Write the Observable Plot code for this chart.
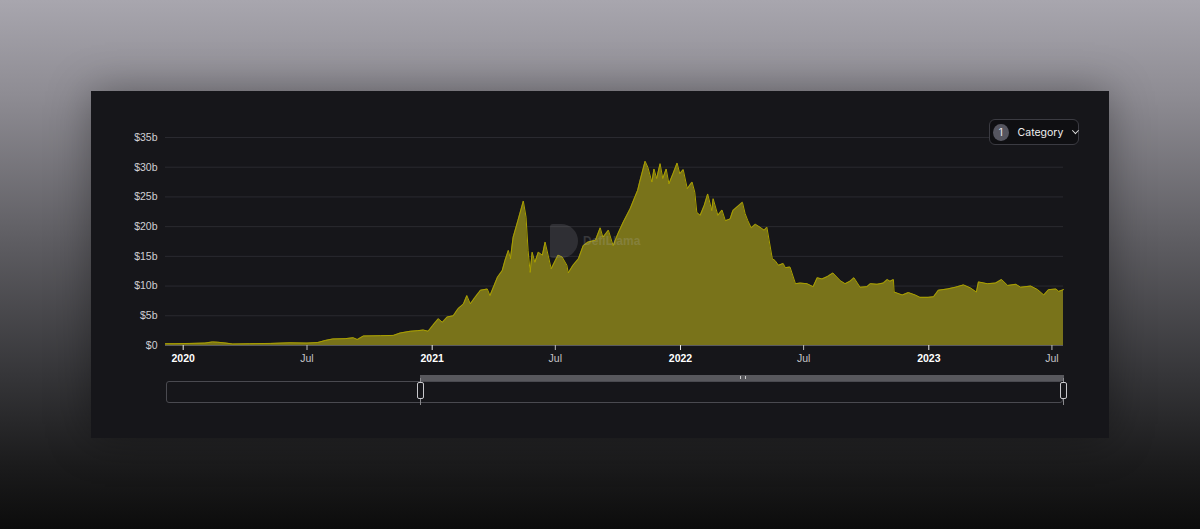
<!DOCTYPE html>
<html>
<head>
<meta charset="utf-8">
<script src="https://cdn.jsdelivr.net/npm/d3@7"></script>
<script src="https://cdn.jsdelivr.net/npm/@observablehq/plot@0.6"></script>
<style>
  html, body { margin: 0; padding: 0; }
  body {
    width: 1200px; height: 529px; overflow: hidden; position: relative;
    background: linear-gradient(to bottom, #a8a6ae 0%, #8e8c93 18%, #5f5e63 45%, #343437 72%, #1b1b1c 88%, #0c0c0c 100%);
    font-family: Inter, "Liberation Sans", sans-serif;
  }
  #panel {
    position: absolute; left: 91px; top: 91px; width: 1018px; height: 347px;
    background: #16161a; box-shadow: 0 0 40px rgba(0,0,0,0.35);
  }
  #chart { position: absolute; left: 0; top: 0; }
  #watermark {
    position: absolute; left: 459px; top: 133px; display: flex; align-items: center; gap: 5px;
    opacity: 0.22; pointer-events: none;
  }
  #watermark .logo {
    width: 28px; height: 34px; background: #8a8a90; border-radius: 3px 17px 17px 3px;
  }
  #watermark .txt { color: #b0b0b0; font-weight: 700; font-size: 12px; font-family: "Liberation Sans", sans-serif; }
  #cat {
    position: absolute; left: 898px; top: 28px; width: 88px; height: 24px;
    border: 1px solid #3b3b42; border-radius: 6px; background: #0f0f12;
    display: flex; align-items: center; color: #f0f0f0; font-size: 10.5px;
  }
  #cat .num {
    width: 17px; height: 17px; border-radius: 50%; background: #55555f; color: #e8e8ee;
    display: flex; align-items: center; justify-content: center; margin-left: 3px; margin-right: 9px; font-size: 10px;
  }
  #cat .chev {
    margin-left: 10px; width: 4px; height: 4px; border-right: 1.5px solid #e0e0e0; border-bottom: 1.5px solid #e0e0e0;
    transform: rotate(45deg); margin-top: -3px;
  }
  #slider {
    position: absolute; left: 75px; top: 290px; width: 897px; height: 22px;
    border: 1px solid #4a4a50; border-radius: 3px; box-sizing: border-box;
  }
  #sel {
    position: absolute; left: 329px; top: 284px; width: 644px; height: 6px; background: #58585d;
  }
  #sel .grip { position: absolute; left: 320px; top: 1px; width: 4px; height: 3px; border-left: 1px solid #ccc; border-right: 1px solid #ccc; }
  .handle {
    position: absolute; top: 291px; width: 5px; height: 15px; border: 1px solid #c8c8cc; border-radius: 2px; background: #16161a;
  }
  .hline { position: absolute; top: 287px; width: 1px; height: 27px; background: #8a8a8e; }
</style>
</head>
<body>
<div id="panel">
  <div id="chart"></div>
  <div id="watermark"><div class="logo"></div><div class="txt">DefiLlama</div></div>
  <div id="cat"><div class="num">1</div><span>Category</span><span class="chev"></span></div>
  <div id="sel"><div class="grip"></div></div>
  <div id="slider"></div>
  <div class="hline" style="left:329px"></div>
  <div class="hline" style="left:972px"></div>
  <div class="handle" style="left:326px"></div>
  <div class="handle" style="left:969px"></div>
</div>
<script>
// TVL in billions USD
const dates = [
  "2019-12-06","2019-12-20","2020-01-11","2020-02-02","2020-02-13","2020-02-21","2020-03-04","2020-03-14",
  "2020-04-08","2020-05-08","2020-06-06","2020-07-01","2020-07-17","2020-07-28","2020-08-08","2020-08-26",
  "2020-09-07","2020-09-13","2020-09-22","2020-10-17","2020-11-05","2020-11-15","2020-11-30","2020-12-11",
  "2020-12-19","2020-12-26","2020-12-29","2021-01-02","2021-01-10","2021-01-16","2021-01-23","2021-02-01",
  "2021-02-08","2021-02-16","2021-02-21","2021-02-26","2021-03-05","2021-03-13","2021-03-23","2021-03-27",
  "2021-04-07","2021-04-14","2021-04-18","2021-04-23","2021-04-26","2021-04-30","2021-05-07","2021-05-15",
  "2021-05-19","2021-05-22","2021-05-25","2021-05-28","2021-06-01","2021-06-06","2021-06-12","2021-06-16",
  "2021-06-21","2021-06-25","2021-07-01","2021-07-05","2021-07-11","2021-07-18","2021-07-20","2021-07-27",
  "2021-08-04","2021-08-11","2021-08-18","2021-08-29","2021-09-05","2021-09-09","2021-09-17","2021-09-24",
  "2021-10-01","2021-10-09","2021-10-19","2021-10-26","2021-10-30","2021-11-02","2021-11-10","2021-11-14",
  "2021-11-20","2021-11-23","2021-11-27","2021-12-02","2021-12-06","2021-12-11","2021-12-15","2021-12-21",
  "2021-12-27","2021-12-31","2022-01-05","2022-01-11","2022-01-18","2022-01-22","2022-01-25","2022-01-30",
  "2022-02-05","2022-02-10","2022-02-16","2022-02-18","2022-02-25","2022-03-03","2022-03-08","2022-03-15",
  "2022-03-19","2022-04-02","2022-04-06","2022-04-10","2022-04-15","2022-04-21","2022-04-28","2022-05-04",
  "2022-05-08","2022-05-11","2022-05-16","2022-05-20","2022-05-25","2022-06-01","2022-06-04","2022-06-11",
  "2022-06-19","2022-06-26","2022-07-06","2022-07-15","2022-07-21","2022-07-28","2022-08-05","2022-08-13",
  "2022-08-24","2022-08-31","2022-09-07","2022-09-13","2022-09-22","2022-10-02","2022-10-07","2022-10-17",
  "2022-10-26","2022-11-01","2022-11-05","2022-11-10","2022-11-11","2022-11-23","2022-12-02","2022-12-12",
  "2022-12-19","2022-12-31","2023-01-08","2023-01-15","2023-01-28","2023-02-09","2023-02-21","2023-03-03",
  "2023-03-12","2023-03-15","2023-03-28","2023-04-09","2023-04-18","2023-04-27","2023-05-09","2023-05-16",
  "2023-05-31","2023-06-10","2023-06-19","2023-06-26","2023-07-07","2023-07-11","2023-07-18"
];
const values = [
  0.3,0.3,0.35,0.4,0.6,0.55,0.4,0.25,
  0.3,0.35,0.45,0.4,0.5,0.85,1.1,1.15,
  1.3,1.0,1.6,1.65,1.7,2.1,2.4,2.5,
  2.6,2.4,2.8,3.4,4.5,3.9,4.8,5.0,
  6.2,7.0,8.4,7.0,8.1,9.3,9.5,8.4,
  11.5,12.6,14.3,16.0,14.6,18.2,21.0,24.3,
  21.6,16.0,12.3,15.7,14.0,15.7,15.2,17.4,
  14.9,12.9,14.3,15.2,14.9,13.5,12.2,13.5,
  14.6,16.8,17.4,17.7,19.8,18.2,19.4,16.8,
  18.8,20.8,23.0,25.0,26.1,27.5,31.0,30.0,
  27.5,29.7,28.1,30.6,28.1,29.7,27.2,28.9,
  30.7,28.9,29.6,26.4,27.5,25.8,22.4,21.9,
  23.6,25.5,22.7,24.7,21.9,22.8,21.0,21.3,
  22.7,24.1,22.2,21.0,19.8,20.4,19.9,19.4,
  19.9,17.9,14.6,14.3,13.5,13.8,13.1,13.2,
  10.4,10.5,10.4,9.9,11.4,11.2,11.6,12.2,
  10.9,10.4,10.8,11.4,9.8,9.9,10.4,10.3,
  10.5,11.1,10.8,11.1,9.0,8.5,8.9,8.5,
  8.1,8.1,8.2,9.3,9.5,9.8,10.2,9.7,
  9.0,10.7,10.4,10.5,11.1,10.1,10.3,9.8,
  10.0,9.4,8.5,9.4,9.5,9.1,9.4
];
const yTicks = [0, 5, 10, 15, 20, 25, 30, 35];
const yearTicks = ["2020-01-01","2021-01-01","2022-01-01","2023-01-01"];
const yearLabels = ["2020","2021","2022","2023"];
const julTicks = ["2020-07-01","2021-07-01","2022-07-01","2023-07-01"];
const julLabel = "Jul";
const xStart = "2019-12-06", xEnd = "2023-07-18";

const data = dates.map((d, i) => ({date: new Date(d), value: values[i]}));
const yearDates = yearTicks.map(d => new Date(d));
const julDates = julTicks.map(d => new Date(d));

const chart = Plot.plot({
  width: 1018,
  height: 290,
  marginLeft: 74,
  marginRight: 46,
  marginTop: 46,
  marginBottom: 36,
  style: {background: "transparent", fontFamily: "'Liberation Sans', Arial, sans-serif", fontSize: "10.5px"},
  x: {type: "utc", domain: [new Date(xStart), new Date(xEnd)]},
  y: {domain: [0, 35]},
  marks: [
    Plot.ruleY(yTicks.filter(v => v > 0), {stroke: "#2a2a30", strokeWidth: 1}),
    Plot.areaY(data, {x: "date", y: "value", fill: "#79731a", fillOpacity: 1}),
    Plot.lineY(data, {x: "date", y: "value", stroke: "#aaa000", strokeWidth: 1}),
    Plot.ruleY([0], {stroke: "#5a5a60", strokeWidth: 1}),
    Plot.axisY({ticks: yTicks, tickSize: 0, tickPadding: 8, tickFormat: d => "$" + d + (d === 0 ? "" : "b"), fill: "#cfcfd4", label: null, fontSize: 10.5}),
    Plot.axisX({ticks: yearDates, tickSize: 5, tickPadding: 4, stroke: "#e8e8e8", tickFormat: d => yearLabels[yearDates.findIndex(t => +t === +d)], fill: "#ffffff", fontWeight: "bold", label: null, fontSize: 10.5}),
    Plot.axisX({ticks: julDates, tickSize: 5, tickPadding: 4, stroke: "#bbbbbb", tickFormat: () => julLabel, fill: "#c4c4c8", label: null, fontSize: 10.5})
  ]
});
document.getElementById("chart").appendChild(chart);
</script>
</body>
</html>
